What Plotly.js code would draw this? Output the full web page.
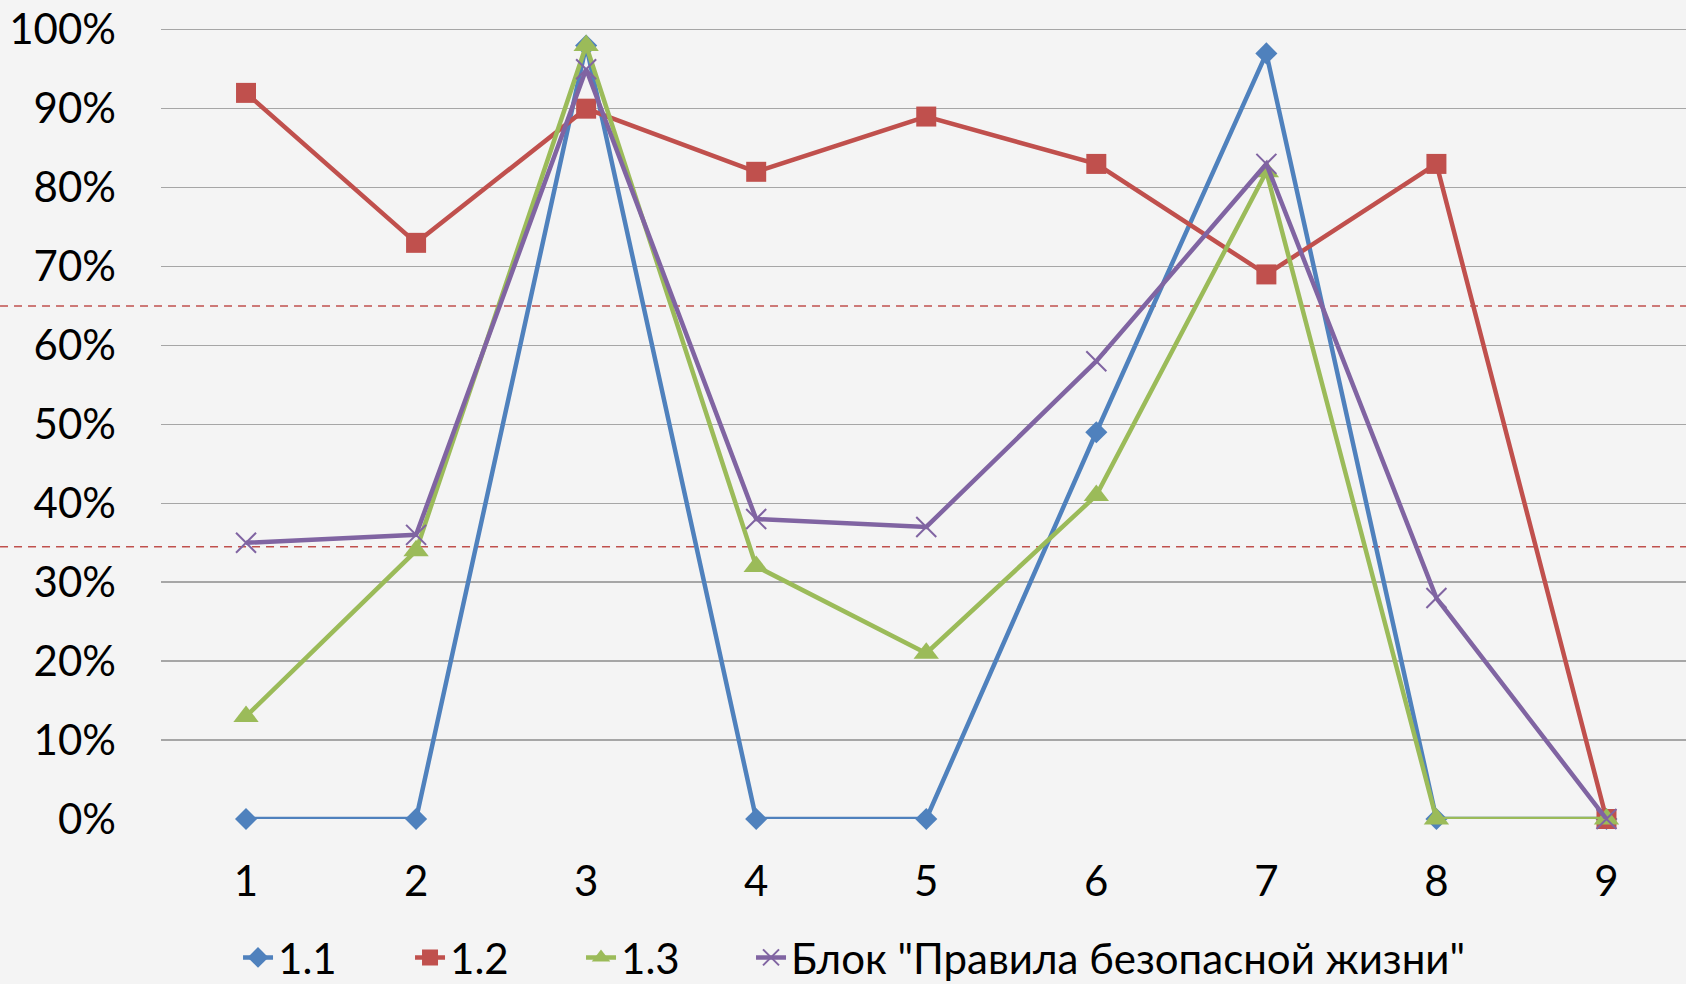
<!DOCTYPE html>
<html>
<head>
<meta charset="utf-8">
<script src="https://cdn.plot.ly/plotly-3.0.1.min.js"></script>
<style>
html,body{margin:0;padding:0;background:#f4f4f4;overflow:hidden;}
#chart{width:1686px;height:984px;}
</style>
</head>
<body>
<div id="chart"></div>
<script>
// Data
const categories = ["1", "2", "3", "4", "5", "6", "7", "8", "9"];
const seriesNames = ["1.1", "1.2", "1.3", "Блок \"Правила безопасной жизни\""];
const s11 = [0, 0, 98, 0, 0, 49, 97, 0, 0];
const s12 = [92, 73, 90, 82, 89, 83, 69, 83, 0];
const s13 = [13, 34, 98, 32, 21, 41, 82, 0, 0];
const sBlock = [35, 36, 95, 38, 37, 58, 83, 28, 0];
const refLines = [65, 34.5];
const yTickVals = [0, 10, 20, 30, 40, 50, 60, 70, 80, 90, 100];

const colors = ["#4F81BD", "#C0504D", "#9BBB59", "#8064A2"];
const symbols = ["diamond", "square", "triangle-up", "x-thin"];
const markerSizes = [17, 20, 22, 20];
const allSeries = [s11, s12, s13, sBlock];
const legendIds = ["legend", "legend2", "legend3", "legend4"];
const legendTextX = [278, 450, 621, 791];

const W = 1686, H = 984;
const pxPerX = 170.06, pxPerY = 7.893;
const zeroY = 819.4, firstX = 246;
const yRange = [0, 100.6];
const mB = H - zeroY;
const mT = zeroY - (yRange[1] - yRange[0]) * pxPerY;
const mL = firstX - 0.5 * pxPerX, mR = 0;
const plotW = W - mL - mR, plotH = H - mT - mB;
const xRange = [0.5, 0.5 + plotW / pxPerX];

const fontFam = "Lato, 'Noto Sans', 'DejaVu Sans', sans-serif";

const xs = categories.map((c, i) => i + 1);

const traces = allSeries.map((vals, k) => ({
  type: "scatter",
  mode: "lines+markers",
  name: seriesNames[k],
  legend: legendIds[k],
  x: xs,
  y: vals,
  cliponaxis: false,
  line: {color: colors[k], width: 4.5},
  marker: {
    symbol: symbols[k],
    size: markerSizes[k],
    color: colors[k],
    line: k === 3 ? {color: colors[k], width: 2} : {width: 0}
  },
  hoverinfo: "x+y+name"
}));

const toPaperY = v => (v - yRange[0]) / (yRange[1] - yRange[0]);

const shapes = refLines.map(v => ({
  type: "line",
  xref: "paper", yref: "paper",
  x0: -mL / plotW, x1: 1,
  y0: toPaperY(v), y1: toPaperY(v),
  layer: "below",
  line: {color: "#C0504D", width: 1.5, dash: "8px,6px"}
}));

const layout = {
  width: W, height: H,
  margin: {l: mL, r: mR, t: mT, b: mB, autoexpand: false},
  paper_bgcolor: "#f4f4f4",
  plot_bgcolor: "rgba(0,0,0,0)",
  font: {family: fontFam, size: 42, color: "#000"},
  showlegend: true,
  xaxis: {
    range: xRange,
    tickmode: "array",
    tickvals: xs,
    ticktext: categories,
    showgrid: false,
    zeroline: false,
    showline: false,
    ticks: "",
    ticklabelstandoff: 34,
    tickfont: {family: fontFam, size: 42, color: "#000"},
    fixedrange: true
  },
  yaxis: {
    range: yRange,
    tickmode: "array",
    tickvals: yTickVals,
    ticktext: yTickVals.map(v => v + "%"),
    showgrid: true,
    gridcolor: "#a6a6a6",
    gridwidth: 1.5,
    zeroline: false,
    showline: false,
    ticks: "",
    ticklabelstandoff: 44,
    tickfont: {family: fontFam, size: 42, color: "#000"},
    fixedrange: true
  },
  shapes: shapes
};

legendIds.forEach((id, k) => {
  layout[id] = {
    orientation: "h",
    x: (legendTextX[k] - 40 - mL) / plotW,
    xanchor: "left",
    y: -(924 - zeroY) / plotH,
    yanchor: "top",
    font: {family: fontFam, size: 42, color: "#000"},
    bgcolor: "rgba(0,0,0,0)",
    borderwidth: 0
  };
});

Plotly.newPlot("chart", traces, layout, {displayModeBar: false, staticPlot: true});
</script>
</body>
</html>
